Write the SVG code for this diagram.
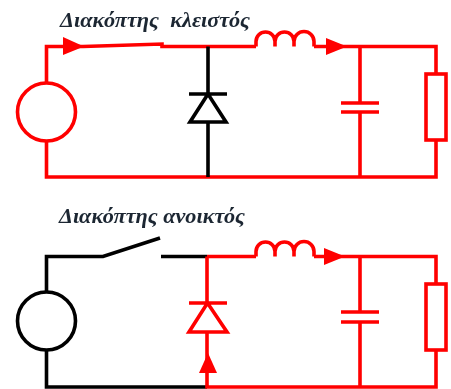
<svg xmlns="http://www.w3.org/2000/svg" width="451" height="389" viewBox="0 0 451 389">
<style>
.w{fill:none;stroke-width:3.6;stroke-linejoin:miter}
.r{stroke:#f00}.k{stroke:#000}
.a{fill:#f00}
text{font-family:"Liberation Serif",serif;font-weight:bold;font-style:italic;font-size:22px;fill:#1c2733;white-space:pre}
</style>
<defs>
<filter id="b" x="-5%" y="-5%" width="110%" height="110%"><feGaussianBlur stdDeviation="0.45"/></filter>
</defs>
<rect width="451" height="389" fill="#fff"/>
<g filter="url(#b)">
<g id="labels">
<text id="label-closed" x="60" y="27" textLength="190" lengthAdjust="spacingAndGlyphs" xml:space="preserve">Διακόπτης  κλειστός</text>
<text id="label-open" x="59" y="223" textLength="186" lengthAdjust="spacingAndGlyphs">Διακόπτης ανοικτός</text>
</g>
<g id="connectors">
<path class="w r" d="M46.500 83V46.500H83L162 44V46.500H256M314 46.500H436V74M436 140V177H46.500V141"/>
<path class="w r" d="M360 46.500V103M360 112V177"/>
<path class="w k" d="M208 46.500V94M208 122V177"/>
<path class="w k" d="M46.500 292V256.500H103L160 238M161 256.500H207M46.500 350V387H207"/>
<path class="w r" d="M207 256.500H256M314 256.500H436V284M436 350V387H207V332M207 256.500V303"/>
<path class="w r" d="M360 256.500V312M360 322V387"/>
</g>
<g id="source-closed"><circle class="w r" cx="46.500" cy="112" r="29"/></g>
<g id="switch-closed-arrow"><path class="a" d="M63 37L84 46.500L63 55Z"/></g>
<g id="diode-closed"><path class="w k" d="M189 94H227M208 94L190 122H226Z"/></g>
<g id="inductor-closed"><path class="w r" d="M256 46.500V41.500A9.500 9.500 0 0 1 275 41.500V46.500V41.500A9.500 9.500 0 0 1 294 41.500V46.500V41.500A10 10 0 0 1 314 41.500V46.500"/></g>
<g id="arrow-closed"><path class="a" d="M326 38L347 46.500L326 55Z"/></g>
<g id="capacitor-closed"><path class="w r" d="M341 103H379M341 112H379"/></g>
<g id="resistor-closed"><rect class="w r" x="426" y="74" width="20" height="66"/></g>
<g id="source-open"><circle class="w k" cx="46.500" cy="321" r="29"/></g>
<g id="diode-open"><path class="w r" d="M189 303H227M207.500 303L189 332H227Z"/></g>
<g id="arrow-up"><path class="a" d="M199 373L208 353L217 373Z"/></g>
<g id="inductor-open"><path class="w r" d="M256 256.500V251.500A9.500 9.500 0 0 1 275 251.500V256.500V251.500A9.500 9.500 0 0 1 294 251.500V256.500V251.500A10 10 0 0 1 314 251.500V256.500"/></g>
<g id="arrow-open"><path class="a" d="M324 248L345 256.500L324 265Z"/></g>
<g id="capacitor-open"><path class="w r" d="M341 312H379M341 322H379"/></g>
<g id="resistor-open"><rect class="w r" x="426" y="284" width="20" height="66"/></g>
</g>
</svg>
